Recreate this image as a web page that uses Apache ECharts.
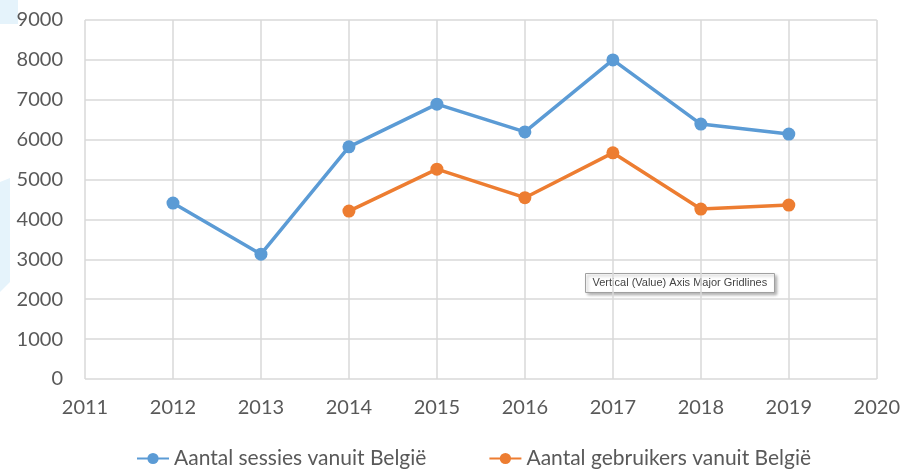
<!DOCTYPE html>
<html>
<head>
<meta charset="utf-8">
<script src="https://cdn.jsdelivr.net/npm/echarts@6/dist/echarts.min.js"></script>
<style>
  html, body { margin: 0; padding: 0; background: #fff; }
  #chart { width: 903px; height: 471px; }
</style>
</head>
<body>
<div id="chart"></div>
<script>
var years = [2012, 2013, 2014, 2015, 2016, 2017, 2018, 2019];
var sessies = [4410, 3130, 5820, 6890, 6195, 8000, 6390, 6140];
var gebruikers = [null, null, 4210, 5260, 4545, 5670, 4260, 4360];
var names = ['Aantal sessies vanuit België', 'Aantal gebruikers vanuit België'];

function pairs(vals) {
    var out = [];
    for (var i = 0; i < years.length; i++) {
        if (vals[i] !== null) out.push([years[i], vals[i]]);
    }
    return out;
}

var chart = echarts.init(document.getElementById('chart'));
var txt = '#595959';
var fontFam = 'Lato';

var option = {
    backgroundColor: '#fff',
    animation: false,
    grid: { left: 85, right: 26, top: 20, bottom: 92 },
    xAxis: {
        type: 'value',
        min: 2011, max: 2020, interval: 1,
        axisLine: { show: false },
        axisTick: { show: false },
        axisLabel: { color: txt, fontSize: 20, fontFamily: fontFam, margin: 19,
                     formatter: function (v) { return String(v); } },
        splitLine: { show: true, lineStyle: { color: '#d9d9d9', width: 1.5 } }
    },
    yAxis: {
        type: 'value',
        min: 0, max: 9000, interval: 1000,
        axisLine: { show: false },
        axisTick: { show: false },
        axisLabel: { color: txt, fontSize: 20, fontFamily: fontFam, margin: 22,
                     formatter: function (v) { return String(v); } },
        splitLine: { show: true, lineStyle: { color: '#d9d9d9', width: 1.5 } }
    },
    legend: {
        left: 136, top: 448, padding: 0,
        itemWidth: 32, itemHeight: 14, itemGap: 62,
        textStyle: { color: txt, fontSize: 21, fontFamily: fontFam },
        data: names
    },
    series: [
        {
            name: names[0], type: 'line',
            data: pairs(sessies),
            symbol: 'circle', symbolSize: 13,
            itemStyle: { color: '#5b9bd5' },
            lineStyle: { color: '#5b9bd5', width: 3.5 }
        },
        {
            name: names[1], type: 'line',
            data: pairs(gebruikers),
            symbol: 'circle', symbolSize: 13,
            itemStyle: { color: '#ed7d31' },
            lineStyle: { color: '#ed7d31', width: 3.5 }
        }
    ],
    graphic: [
        { type: 'polygon', shape: { points: [[0, 0], [18, 0], [18, 24], [0, 24]] }, style: { fill: '#e5f3fb' }, z: -1 },
        { type: 'polygon', shape: { points: [[0, 182], [10, 178], [10, 282], [0, 292]] }, style: { fill: '#e5f3fb' }, z: -1 },
        {
            type: 'group', left: 585, top: 273, z: 100,
            children: [
                { type: 'rect', shape: { x: 0, y: 0, width: 189, height: 19 },
                  style: { fill: '#fff', stroke: '#a0a0a0', lineWidth: 1, shadowBlur: 3, shadowOffsetX: 2, shadowOffsetY: 2, shadowColor: 'rgba(0,0,0,0.3)' } },
                { type: 'text', x: 7, y: 4,
                  style: { text: 'Vertical (Value) Axis Major Gridlines', fill: '#444', fontSize: 11, fontFamily: 'Liberation Sans' } }
            ]
        }
    ]
};
chart.setOption(option);
</script>
</body>
</html>
